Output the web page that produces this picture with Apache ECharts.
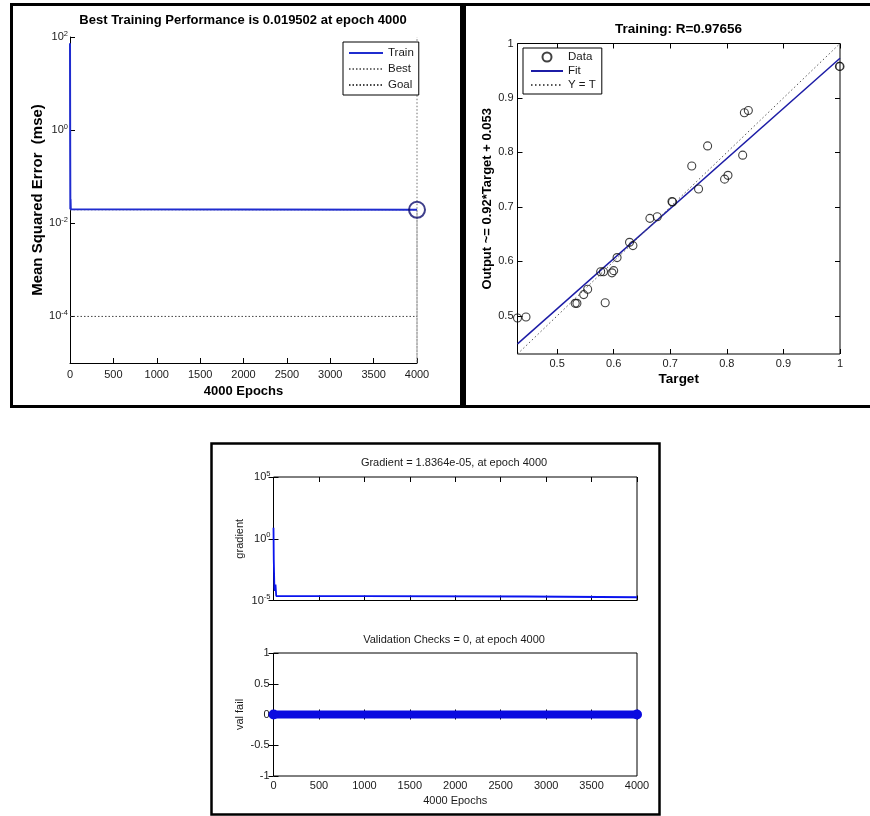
<!DOCTYPE html>
<html>
<head>
<meta charset="utf-8">
<script src="https://cdn.jsdelivr.net/npm/echarts@6/dist/echarts.min.js"></script>
<style>html,body{margin:0;padding:0;background:#fff;}#c{width:870px;height:816px;}</style>
</head>
<body>
<div id="c"></div>
<script>
// ---- Panel 1: performance ----
const perfEpochs = [0, 2, 4, 6, 9, 20, 4000];
const perfTrain = [73, 0.5, 0.02, 0.033, 0.02, 0.0196, 0.019502];
const bestEpoch = 4000;
const bestPerf = 0.019502;
const goalPerf = 1e-4;
const perfYMin = 1e-5, perfYMax = 100;
const perfXTicks = [0, 500, 1000, 1500, 2000, 2500, 3000, 3500, 4000];
const perfYTicks = [1e-4, 1e-2, 1, 100];

// ---- Panel 2: regression ----
const regTarget = [0.430, 0.445, 0.532, 0.535, 0.547, 0.554, 0.585, 0.577, 0.582, 0.597, 0.600, 0.606, 0.628, 0.634, 0.664, 0.677, 0.703, 0.704, 0.738, 0.750, 0.766, 0.796, 0.802, 0.828, 0.831, 0.838, 0.999, 1.000];
const regOutput = [0.496, 0.498, 0.523, 0.523, 0.539, 0.549, 0.524, 0.581, 0.581, 0.579, 0.583, 0.607, 0.635, 0.629, 0.679, 0.682, 0.710, 0.709, 0.775, 0.733, 0.812, 0.751, 0.758, 0.795, 0.873, 0.877, 0.958, 0.958];
const fitTarget = [0.43, 1.0];
const fitOutput = [0.4486, 0.973];
const identT = [0.43, 1.0];
const regMin = 0.43, regMax = 1.0;
const regTicks = [0.5, 0.6, 0.7, 0.8, 0.9, 1];

// ---- Panel 3: gradient / validation ----
const gradEpochs = [0, 3, 6, 10, 14, 18, 22, 30, 1000, 1000, 2780, 2780, 4000];
const gradValues = [7.8, 0.02, 0.016, 1e-4, 6e-5, 5e-5, 2e-4, 2.3e-5, 2.3e-5, 2.1e-5, 2.1e-5, 1.85e-5, 1.8364e-5];
const gradYMin = 1e-5, gradYMax = 1e5;
const gradYTicks = [1e-5, 1, 1e5];
const valEpochs = [0, 4000];
const valFail = [0, 0];
const valYTicks = [-1, -0.5, 0, 0.5, 1];
const epochTicks = [0, 500, 1000, 1500, 2000, 2500, 3000, 3500, 4000];

const FONT = "'Liberation Sans', Arial, sans-serif";
const TXT = '#1a1a1a';

function logLabel(v) {
  const e = Math.round(Math.log10(v));
  return '{b|10}{e|' + e + '}';
}
const plain = v => String(v);
const logRich = {
  b: {fontSize: 11, fontFamily: FONT, color: TXT, lineHeight: 15},
  e: {fontSize: 7.5, fontFamily: FONT, color: TXT, verticalAlign: 'top', lineHeight: 8}
};

function tick(custom) {
  return {show: true, inside: true, length: 5, lineStyle: {color: '#000', width: 1}, customValues: custom};
}
const axLine = {show: true, lineStyle: {color: '#000', width: 1}};
const noLine = {show: false};
const lbl = (custom, margin, extra) => Object.assign({fontSize: 11, fontFamily: FONT, color: TXT, margin: margin, customValues: custom, formatter: plain}, extra || {});

const pts = regTarget.map((t, i) => [t, regOutput[i]]);
const hideSym = {opacity: 0};

const option = {
  backgroundColor: '#fff',
  animation: false,
  grid: [
    {left: 70, top: 37, width: 347, height: 326, show: false},
    {left: 517.5, top: 43.5, width: 322.5, height: 310.5, show: true, borderColor: '#000', borderWidth: 1, backgroundColor: '#fff'},
    {left: 273.5, top: 477, width: 363.5, height: 123.5, show: true, borderColor: '#000', borderWidth: 1, backgroundColor: '#fff'},
    {left: 273.5, top: 653, width: 363.5, height: 123, show: true, borderColor: '#000', borderWidth: 1, backgroundColor: '#fff'}
  ],
  xAxis: [
    {gridIndex: 0, type: 'value', min: 0, max: 4000, axisLine: axLine, axisTick: tick(perfXTicks), axisLabel: lbl(perfXTicks, 6), splitLine: {show: false},
     name: '4000 Epochs', nameLocation: 'middle', nameGap: 22, nameTextStyle: {fontSize: 13, fontWeight: 'bold', fontFamily: FONT, color: '#000'}},
    {gridIndex: 1, type: 'value', min: regMin, max: regMax, axisLine: noLine, axisTick: tick(regTicks), axisLabel: lbl(regTicks, 4), splitLine: {show: false},
     name: 'Target', nameLocation: 'middle', nameGap: 18, nameTextStyle: {fontSize: 13.5, fontWeight: 'bold', fontFamily: FONT, color: '#000'}},
    {gridIndex: 1, type: 'value', position: 'top', min: regMin, max: regMax, axisLine: noLine, axisTick: tick(regTicks), axisLabel: {show: false}, splitLine: {show: false}},
    {gridIndex: 2, type: 'value', min: 0, max: 4000, axisLine: noLine, axisTick: tick(epochTicks), axisLabel: {show: false}, splitLine: {show: false}},
    {gridIndex: 2, type: 'value', position: 'top', min: 0, max: 4000, axisLine: noLine, axisTick: tick(epochTicks), axisLabel: {show: false}, splitLine: {show: false}},
    {gridIndex: 3, type: 'value', min: 0, max: 4000, axisLine: noLine, axisTick: tick(epochTicks), axisLabel: lbl(epochTicks, 4), splitLine: {show: false},
     name: '4000 Epochs', nameLocation: 'middle', nameGap: 19, nameTextStyle: {fontSize: 11, fontFamily: FONT, color: TXT}},
    {gridIndex: 3, type: 'value', position: 'top', min: 0, max: 4000, axisLine: noLine, axisTick: tick(epochTicks), axisLabel: {show: false}, splitLine: {show: false}}
  ],
  yAxis: [
    {gridIndex: 0, type: 'log', min: perfYMin, max: perfYMax, axisLine: axLine, axisTick: tick(perfYTicks), splitLine: {show: false},
     axisLabel: lbl(perfYTicks, 2, {formatter: logLabel, rich: logRich}),
     name: 'Mean Squared Error  (mse)', nameLocation: 'middle', nameRotate: 90, nameGap: 25, nameTextStyle: {fontSize: 15, fontWeight: 'bold', fontFamily: FONT, color: '#000'}},
    {gridIndex: 1, type: 'value', min: regMin, max: regMax, axisLine: noLine, axisTick: tick(regTicks), axisLabel: lbl(regTicks, 4), splitLine: {show: false},
     name: 'Output ~= 0.92*Target + 0.053', nameLocation: 'middle', nameRotate: 90, nameGap: 24, nameTextStyle: {fontSize: 13, fontWeight: 'bold', fontFamily: FONT, color: '#000'}},
    {gridIndex: 1, type: 'value', position: 'right', min: regMin, max: regMax, axisLine: noLine, axisTick: tick(regTicks), axisLabel: {show: false}, splitLine: {show: false}},
    {gridIndex: 2, type: 'log', min: gradYMin, max: gradYMax, axisLine: noLine, axisTick: tick(gradYTicks), splitLine: {show: false},
     axisLabel: lbl(gradYTicks, 3, {formatter: logLabel, rich: logRich}),
     name: 'gradient', nameLocation: 'middle', nameRotate: 90, nameGap: 28, nameTextStyle: {fontSize: 11, fontFamily: FONT, color: TXT}},
    {gridIndex: 2, type: 'log', position: 'right', min: gradYMin, max: gradYMax, axisLine: noLine, axisTick: tick(gradYTicks), axisLabel: {show: false}, splitLine: {show: false}},
    {gridIndex: 3, type: 'value', min: -1, max: 1, axisLine: noLine, axisTick: tick(valYTicks), axisLabel: lbl(valYTicks, 4), splitLine: {show: false},
     name: 'val fail', nameLocation: 'middle', nameRotate: 90, nameGap: 28, nameTextStyle: {fontSize: 11, fontFamily: FONT, color: TXT}},
    {gridIndex: 3, type: 'value', position: 'right', min: -1, max: 1, axisLine: noLine, axisTick: tick(valYTicks), axisLabel: {show: false}, splitLine: {show: false}}
  ],
  legend: [
    {data: [{name: 'Train', itemStyle: hideSym}, {name: 'Best', itemStyle: hideSym}, {name: 'Goal', itemStyle: hideSym}],
     orient: 'vertical', left: 343, top: 42, selectedMode: false,
     backgroundColor: '#fff', borderColor: '#000', borderWidth: 1, padding: [5, 5, 4, 5],
     itemWidth: 34, itemHeight: 14, itemGap: 4, textStyle: {fontSize: 11.5, fontFamily: FONT, color: TXT}},
    {data: [{name: 'Data'}, {name: 'Fit', itemStyle: hideSym}, {name: 'Y = T', itemStyle: hideSym}],
     orient: 'vertical', left: 523, top: 48, selectedMode: false,
     backgroundColor: '#fff', borderColor: '#000', borderWidth: 1, padding: [3, 6, 3, 7],
     itemWidth: 32, itemHeight: 9, itemGap: 2, textStyle: {fontSize: 11.5, fontFamily: FONT, color: TXT}}
  ],
  series: [
    {name: 'Best', type: 'line', xAxisIndex: 0, yAxisIndex: 0, symbol: 'none', z: 1,
     data: [[0, bestPerf], [bestEpoch, bestPerf], [bestEpoch, perfYMin], [bestEpoch, perfYMax]],
     lineStyle: {color: '#6e6e6e', width: 1, type: [1.5, 2]}, itemStyle: {color: '#6e6e6e'}},
    {name: 'Goal', type: 'line', xAxisIndex: 0, yAxisIndex: 0, symbol: 'none', z: 1,
     data: [[0, goalPerf], [bestEpoch, goalPerf]],
     lineStyle: {color: '#444', width: 1, type: [1.5, 2]}, itemStyle: {color: '#444'}},
    {name: 'Train', type: 'line', xAxisIndex: 0, yAxisIndex: 0, symbol: 'none', z: 3,
     data: perfEpochs.map((e, i) => [e, perfTrain[i]]),
     lineStyle: {color: '#1f2ccf', width: 2}, itemStyle: {color: '#1f2ccf'}},
    {name: 'bestMarker', type: 'scatter', xAxisIndex: 0, yAxisIndex: 0, z: 4,
     data: [[bestEpoch, bestPerf]], symbol: 'circle', symbolSize: 16,
     itemStyle: {color: 'rgba(0,0,0,0)', borderColor: '#0e0e6e', borderWidth: 2}},

    {name: 'Data', type: 'scatter', xAxisIndex: 1, yAxisIndex: 1, data: pts, symbol: 'circle', symbolSize: 8, z: 3,
     itemStyle: {color: 'rgba(0,0,0,0)', borderColor: '#111', borderWidth: 1.1}},
    {name: 'Fit', type: 'line', xAxisIndex: 1, yAxisIndex: 1, symbol: 'none', z: 2,
     data: fitTarget.map((t, i) => [t, fitOutput[i]]),
     lineStyle: {color: '#1c1ca6', width: 1.5}, itemStyle: {color: '#1c1ca6'}},
    {name: 'Y = T', type: 'line', xAxisIndex: 1, yAxisIndex: 1, symbol: 'none', z: 2,
     data: identT.map(t => [t, t]),
     lineStyle: {color: '#555', width: 1, type: [1.5, 2.5]}, itemStyle: {color: '#555'}},

    {name: 'gradient', type: 'line', xAxisIndex: 3, yAxisIndex: 3, symbol: 'none',
     data: gradEpochs.map((e, i) => [e, gradValues[i]]),
     lineStyle: {color: '#0a14ee', width: 1.8}},
    {name: 'val fail', type: 'line', xAxisIndex: 5, yAxisIndex: 5, symbol: 'circle', symbolSize: 10,
     data: valEpochs.map((e, i) => [e, valFail[i]]),
     lineStyle: {color: '#0a0ae0', width: 8}, itemStyle: {color: '#0a0ae0'}}
  ],
  graphic: [
    {type: 'rect', shape: {x: 11.5, y: 4.5, width: 450, height: 402}, style: {fill: 'none', stroke: '#000', lineWidth: 3}, z: 100},
    {type: 'rect', shape: {x: 464.5, y: 4.5, width: 410, height: 402}, style: {fill: 'none', stroke: '#000', lineWidth: 3}, z: 100},
    {type: 'rect', shape: {x: 211.5, y: 443.5, width: 448, height: 371}, style: {fill: 'none', stroke: '#000', lineWidth: 2.5}, z: 100},
    {type: 'text', x: 243, y: 20, style: {text: 'Best Training Performance is 0.019502 at epoch 4000', font: 'bold 13px ' + FONT, fill: '#000', textAlign: 'center', textVerticalAlign: 'middle'}},
    {type: 'text', x: 678.5, y: 29, style: {text: 'Training: R=0.97656', font: 'bold 13.5px ' + FONT, fill: '#000', textAlign: 'center', textVerticalAlign: 'middle'}},
    {type: 'text', x: 454, y: 463, style: {text: 'Gradient = 1.8364e-05, at epoch 4000', font: '11px ' + FONT, fill: TXT, textAlign: 'center', textVerticalAlign: 'middle'}},
    {type: 'text', x: 454, y: 639.5, style: {text: 'Validation Checks = 0, at epoch 4000', font: '11px ' + FONT, fill: TXT, textAlign: 'center', textVerticalAlign: 'middle'}}
  ]
};

const chart = echarts.init(document.getElementById('c'), null, {renderer: 'canvas', width: 870, height: 816});
chart.setOption(option);
</script>
</body>
</html>
